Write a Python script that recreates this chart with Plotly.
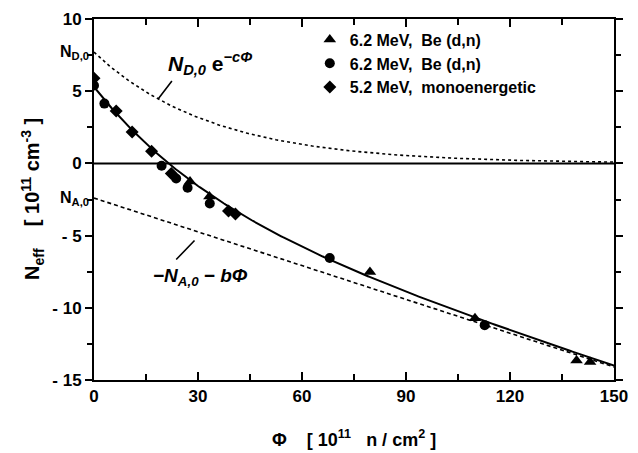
import numpy as np
import plotly.graph_objects as go

# Measured effective doping vs. fluence (units: 1e11 n/cm^2, 1e11 cm^-3)
tri_phi = [27.7, 33.3, 79.6, 109.9, 139.2, 143.1]
tri_neff = [-1.26, -2.30, -7.52, -10.72, -13.65, -13.76]

circ_phi = [0.0, 3.0, 19.5, 23.7, 27.0, 33.4, 68.0, 112.7]
circ_neff = [5.40, 4.14, -0.16, -1.04, -1.69, -2.78, -6.55, -11.20]

dia_phi = [0.0, 6.4, 11.0, 16.6, 22.3, 38.8, 40.8]
dia_neff = [5.90, 3.63, 2.18, 0.84, -0.70, -3.29, -3.51]

series_names = ["6.2 MeV,  Be (d,n)", "6.2 MeV,  Be (d,n)", "5.2 MeV,  monoenergetic"]

# Fit parameters: Neff = ND0*exp(-c*Phi) - NA0 - b*Phi
ND0 = 7.7
NA0 = 2.4
b = 0.078
c = 0.0295

x_ticks = [0, 30, 60, 90, 120, 150]
x_ticktext = ["0", "30", "60", "90", "120", "150"]
y_ticks = [-15, -10, -5, 0, 5, 10]
y_ticktext = ["- 15", "- 10", "- 5", "0", "5", "10"]

phi = np.linspace(0, 150, 301)
donor = ND0 * np.exp(-c * phi)
acceptor = -NA0 - b * phi
total = donor + acceptor

font = "Liberation Sans, Arial, sans-serif"
fig = go.Figure()

# zero line
fig.add_trace(go.Scatter(x=[0, 150], y=[0, 0], mode="lines",
                         line=dict(color="black", width=2), showlegend=False, hoverinfo="skip"))
fig.add_trace(go.Scatter(x=phi, y=donor, mode="lines",
                         line=dict(color="black", width=1.6, dash="3px,3px"),
                         showlegend=False, hoverinfo="skip"))
fig.add_trace(go.Scatter(x=phi, y=acceptor, mode="lines",
                         line=dict(color="black", width=1.6, dash="4px,3px"),
                         showlegend=False, hoverinfo="skip"))
fig.add_trace(go.Scatter(x=phi, y=total, mode="lines",
                         line=dict(color="black", width=2), showlegend=False, hoverinfo="skip"))

fig.add_trace(go.Scatter(x=tri_phi, y=tri_neff, mode="markers", name=series_names[0],
                         marker=dict(symbol="triangle-up", size=11, color="black")))
fig.add_trace(go.Scatter(x=circ_phi, y=circ_neff, mode="markers", name=series_names[1],
                         marker=dict(symbol="circle", size=10, color="black")))
fig.add_trace(go.Scatter(x=dia_phi, y=dia_neff, mode="markers", name=series_names[2],
                         marker=dict(symbol="diamond", size=10, color="black")))

axis_common = dict(showline=True, linecolor="black", linewidth=2, mirror="ticks",
                   showgrid=False, zeroline=False, tickcolor="black", tickwidth=2,
                   tickfont=dict(family=font, size=17, color="black", weight="bold"))

fig.update_xaxes(range=[0, 150], tickvals=x_ticks, ticktext=x_ticktext,
                 ticks="inside", ticklen=8,
                 minor=dict(dtick=15, tick0=0, ticks="inside", ticklen=6,
                            tickcolor="black", tickwidth=2),
                 **axis_common)
fig.update_yaxes(range=[-15, 10], tickvals=y_ticks, ticktext=y_ticktext,
                 ticks="outside", ticklen=7,
                 minor=dict(dtick=2.5, tick0=0, ticks="outside", ticklen=5,
                            tickcolor="black", tickwidth=2),
                 **axis_common)

ann_font = dict(family=font, size=18, color="black", weight="bold")
annotations = [
    dict(x=0.5, y=-0.2, xref="paper", yref="paper", showarrow=False,
         text="Φ    [ 10<sup>11</sup>   n / cm<sup>2</sup> ]", font=ann_font),
    dict(x=-0.15, y=0.5, xref="paper", yref="paper", showarrow=False, textangle=-90,
         text="N<sub>eff</sub>    [ 10<sup>11</sup> cm<sup>-3</sup> ]",
         font=dict(family=font, size=20, color="black", weight="bold")),
    dict(x=0, y=ND0, xref="paper", yref="y", xshift=-3, xanchor="right", showarrow=False,
         text="N<sub>D,0</sub>", font=dict(family=font, size=16, color="black", weight="bold")),
    dict(x=0, y=-NA0, xref="paper", yref="y", xshift=-3, xanchor="right", showarrow=False,
         text="N<sub>A,0</sub>", font=dict(family=font, size=16, color="black", weight="bold")),
    dict(x=18.5, y=4.46, ax=22.8, ay=5.81, xref="x", yref="y", axref="x", ayref="y",
         showarrow=True, arrowhead=0, arrowwidth=1.6, arrowcolor="black", text=""),
    dict(x=20.8, y=6.9, xref="x", yref="y", xanchor="left", yanchor="middle", showarrow=False,
         text="<i>N<sub>D,0</sub></i> e<sup><i>−cΦ</i></sup>",
         font=dict(family=font, size=21, color="black", weight="bold")),
    dict(x=29.0, y=-5.34, ax=23.3, ay=-6.76, xref="x", yref="y", axref="x", ayref="y",
         showarrow=True, arrowhead=0, arrowwidth=1.6, arrowcolor="black", text=""),
    dict(x=16.5, y=-7.9, xref="x", yref="y", xanchor="left", showarrow=False,
         text="<i>−N<sub>A,0</sub> − bΦ</i>",
         font=dict(family=font, size=19, color="black", weight="bold")),
]

fig.update_layout(
    width=638, height=453,
    margin=dict(l=94, r=13, t=10, b=73),
    paper_bgcolor="white", plot_bgcolor="white",
    annotations=annotations,
    legend=dict(x=0.415, y=0.99, xanchor="left", yanchor="top",
                bgcolor="rgba(0,0,0,0)", tracegroupgap=0,
                font=dict(family=font, size=16, color="black", weight="bold")),
)

fig.write_html("out.html")
